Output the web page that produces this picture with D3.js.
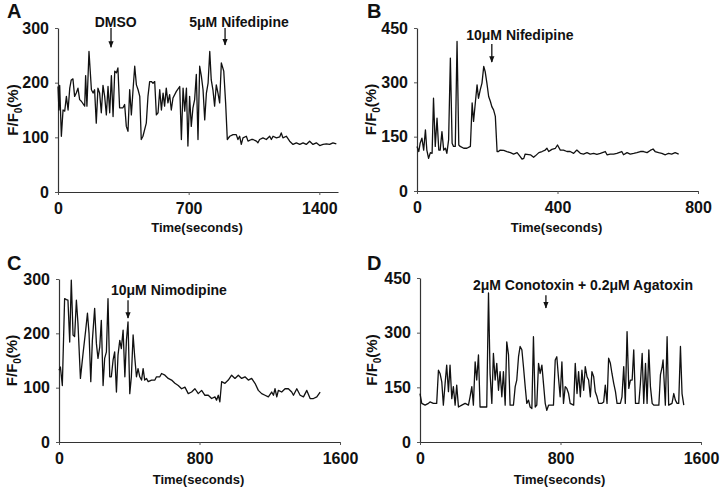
<!DOCTYPE html>
<html><head><meta charset="utf-8">
<script src="https://cdn.jsdelivr.net/npm/d3@7"></script>
<style>
body{margin:0;background:#fff;}
text{font-family:"Liberation Sans",Arial,sans-serif;font-weight:bold;fill:#111;}
</style></head>
<body><svg id="chart" width="720" height="488"></svg>
<script>
// ---------- data ----------
const aTime = [0,5,9,18,27,36,45,54,63,71,80,89,98,107,116,125,143,148,155,166,179,188,196,205,214,223,232,241,250,259,268,277,286,295,304,313,321,330,348,357,366,375,384,393,402,411,420,429,438,446,455,473,482,491,500,509,518,527,536,545,554,563,571,580,589,598,607,616,634,652,661,670,679,688,696,705,714,723,732,741,750,759,768,777,786,795,804,813,821,830,839,848,857,866,875,888,898,907,920,938,955,964,973,982,991,1009,1018,1036,1045,1063,1071,1080,1098,1116,1134,1143,1152,1170,1188,1196,1205,1223,1241,1259,1277,1295,1313,1330,1348,1366,1384,1402,1420,1438,1455,1473,1491];
const aValue = [193,150,195,102,150,148,175,150,190,205,207,175,181,190,169,166,157,213,157,257,187,181,187,126,190,181,145,195,175,141,193,145,213,138,221,218,227,154,154,160,120,111,187,141,187,230,196,187,175,96,102,126,175,202,202,199,202,141,145,187,150,181,157,190,163,178,150,172,184,193,96,190,148,190,84,175,120,154,169,215,96,230,212,187,132,181,199,257,205,187,157,196,181,163,236,221,163,96,102,105,105,96,102,87,99,102,93,96,96,93,90,96,99,96,102,96,102,99,101,108,99,102,93,87,90,87,90,87,93,87,90,85,87,88,87,90,88];

const bTime = [0,5,9,14,19,24,28,33,38,43,47,52,57,62,66,71,76,81,85,90,95,100,104,109,114,119,123,133,142,152,157,161,166,171,175,180,185,190,194,199,204,209,213,218,223,228,232,237,247,256,266,275,285,294,299,304,308,323,332,337,347,356,365,370,375,384,394,400,408,417,427,436,446,455,465,474,484,493,503,512,522,536,541,550,560,569,583,588,598,607,617,626,636,645,655,664,672,678,688,697,707,716,725,735,745];
const bValue = [123,109,132,146,113,169,113,90,106,104,256,123,201,113,113,164,113,118,104,141,367,132,123,123,413,127,123,118,118,123,243,192,243,293,256,279,298,344,330,298,261,247,233,224,206,109,109,113,112,109,106,102,106,95,88,90,102,100,93,97,106,109,113,118,109,115,118,127,113,113,109,109,104,113,104,102,106,102,104,101,104,109,100,102,102,104,109,100,106,102,104,106,109,109,106,112,116,109,106,104,100,104,102,106,102];

const cTime = [0,8,19,32,42,51,61,70,80,89,99,108,122,137,152,162,171,181,190,203,213,222,232,241,251,260,270,279,289,298,308,317,327,336,346,355,365,375,384,393,403,412,422,431,441,450,460,470,479,488,498,508,527,546,555,574,584,603,622,641,660,679,698,717,736,755,774,793,812,831,850,869,888,897,907,916,926,945,964,983,1002,1021,1040,1059,1078,1097,1116,1135,1154,1173,1192,1211,1221,1230,1240,1249,1268,1287,1306,1325,1335,1354,1373,1392,1411,1430,1449,1468,1487];
const cValue = [132,138,104,264,262,261,184,298,197,194,261,218,117,163,206,237,200,111,187,246,181,154,175,224,104,154,166,264,120,120,151,166,92,160,187,172,206,120,187,221,89,120,197,157,120,135,120,114,135,114,117,111,114,114,120,120,126,123,117,114,108,104,98,101,89,92,98,89,95,86,86,80,83,77,86,74,111,108,114,123,117,123,117,120,114,117,108,95,89,86,83,92,86,98,83,95,92,98,98,92,86,98,86,83,95,80,80,83,92];

const dTime = [0,10,29,48,57,76,95,105,114,124,133,143,152,162,171,181,190,200,209,219,238,257,276,285,295,304,314,323,333,342,361,380,390,399,409,418,428,437,447,456,466,475,485,494,504,513,532,542,551,561,570,580,589,599,608,618,627,637,646,656,665,675,684,694,703,713,722,732,760,770,779,789,798,808,817,827,836,846,855,875,884,894,903,913,922,932,941,951,960,970,979,989,998,1008,1017,1036,1046,1055,1065,1074,1084,1093,1103,1113,1122,1141,1150,1160,1169,1179,1189,1198,1208,1217,1227,1246,1255,1265,1274,1284,1293,1303,1312,1322,1331,1360,1369,1379,1384,1397,1407,1416,1435,1445,1454,1464,1473,1483,1492,1502];
const dValue = [133,106,101,106,110,106,106,197,188,165,101,161,211,138,211,119,152,101,156,96,101,106,101,124,152,101,220,170,239,96,96,96,409,188,106,243,170,216,142,193,124,193,101,275,239,101,101,152,170,234,262,253,207,152,106,115,96,92,289,96,101,216,188,211,161,106,87,101,101,225,234,174,124,220,106,152,147,133,106,101,216,133,193,124,197,142,207,179,170,124,193,179,138,124,106,106,110,156,106,230,216,188,161,138,106,106,124,207,106,303,147,170,170,253,106,106,161,243,106,216,106,253,152,106,101,101,184,207,225,101,289,101,106,133,115,106,106,262,133,101];

const aXTicks = [0,700,1400], aYTicks = [0,100,200,300];
const bXTicks = [0,400,800],  bYTicks = [0,150,300,450];
const cXTicks = [0,800,1600], cYTicks = [0,100,200,300];
const dXTicks = [0,800,1600], dYTicks = [0,150,300,450];

const panelLetters = ["A","B","C","D"];
const xTitle = "Time(seconds)";

const aNotes = ["DMSO","5μM Nifedipine"], aNoteT = [309,970], aArrowT = [284,895];
const bNotes = ["10μM Nifedipine"], bNoteT = [293], bArrowT = [213];
const cNotes = ["10μM Nimodipine"], cNoteT = [626], cArrowT = [393];
const dNotes = ["2μM Conotoxin + 0.2μM Agatoxin"], dNoteT = [928], dArrowT = [717];

// ---------- drawing ----------
const svg = d3.select("#chart");
svg.append("defs").append("marker")
  .attr("id","ah").attr("viewBox","0 0 10 10").attr("refX",9).attr("refY",5)
  .attr("markerWidth",5).attr("markerHeight",6).attr("orient","auto")
  .append("path").attr("d","M0,1 L10,5 L0,9 Z").attr("fill","#111");

const panels = [
  {letter:panelLetters[0], t:aTime, v:aValue, xd:[0,1500], yd:[0,300], xt:aXTicks, yt:aYTicks,
   x0:58, x1:338, y0:192, y1:28, lx:7, ly:18, ylx:13, titleY:232,
   notes:aNotes, noteT:aNoteT, arrowT:aArrowT, noteV:302, arrowTop:[300,300], arrowTip:[265,269]},
  {letter:panelLetters[1], t:bTime, v:bValue, xd:[0,800], yd:[0,450], xt:bXTicks, yt:bYTicks,
   x0:417, x1:698, y0:191, y1:28, lx:367, ly:18, ylx:371, titleY:232,
   notes:bNotes, noteT:bNoteT, arrowT:bArrowT, noteV:417, arrowTop:[406], arrowTip:[356]},
  {letter:panelLetters[2], t:cTime, v:cValue, xd:[0,1600], yd:[0,300], xt:cXTicks, yt:cYTicks,
   x0:59, x1:340, y0:442, y1:279, lx:7, ly:270, ylx:12, titleY:484,
   notes:cNotes, noteT:cNoteT, arrowT:cArrowT, noteV:271, arrowTop:[261], arrowTip:[228]},
  {letter:panelLetters[3], t:dTime, v:dValue, xd:[0,1600], yd:[0,450], xt:dXTicks, yt:dYTicks,
   x0:420, x1:701, y0:442, y1:278, lx:367, ly:270, ylx:372, titleY:484,
   notes:dNotes, noteT:dNoteT, arrowT:dArrowT, noteV:417, arrowTop:[403], arrowTip:[368]}
];

panels.forEach(p => {
  const x = d3.scaleLinear().domain(p.xd).range([p.x0,p.x1]);
  const y = d3.scaleLinear().domain(p.yd).range([p.y0,p.y1]);
  const g = svg.append("g");

  const xa = g.append("g").attr("transform",`translate(0,${p.y0})`)
    .call(d3.axisBottom(x).tickValues(p.xt).tickFormat(d3.format("d")).tickSize(3).tickSizeOuter(0).tickPadding(8));
  const ya = g.append("g").attr("transform",`translate(${p.x0},0)`)
    .call(d3.axisLeft(y).tickValues(p.yt).tickFormat(d3.format("d")).tickSize(3).tickSizeOuter(0).tickPadding(6));
  [xa,ya].forEach(a=>{
    a.select(".domain").attr("stroke","#333").attr("stroke-width",1.2);
    a.selectAll(".tick line").attr("stroke","#555");
    a.selectAll(".tick text").style("font-size","16px").style("font-family","'Liberation Sans',Arial,sans-serif")
      .style("font-weight","bold").attr("fill","#111");
  });

  const line = d3.line().x((d,i)=>x(p.t[i])).y(d=>y(d));
  g.append("path").datum(p.v).attr("d",line).attr("fill","none")
    .attr("stroke","#111").attr("stroke-width",1.3).attr("stroke-linejoin","round");

  // letter
  g.append("text").attr("x",p.lx).attr("y",p.ly).text(p.letter).style("font-size","20px");
  // x title
  g.append("text").attr("x",(p.x0+p.x1)/2 - 1).attr("y",p.titleY).attr("text-anchor","middle")
    .style("font-size","13px").text(xTitle);
  // y title
  const yt = g.append("text").attr("transform",`translate(${p.ylx+5},${(p.y0+p.y1)/2}) rotate(-90)`)
    .attr("text-anchor","middle").style("font-size","15px");
  yt.append("tspan").text("F/F");
  yt.append("tspan").attr("dy",4).style("font-size","10px").text("0");
  yt.append("tspan").attr("dy",-4).text("(%)");

  // annotations
  p.notes.forEach((n,i)=>{
    g.append("text").attr("x",x(p.noteT[i])).attr("y",y(p.noteV)).attr("text-anchor","middle")
      .style("font-size","14px").text(n);
    const top = p.arrowTop[i] !== undefined ? p.arrowTop[i] : p.arrowTop[0];
    g.append("line").attr("x1",x(p.arrowT[i])).attr("x2",x(p.arrowT[i]))
      .attr("y1",y(top)).attr("y2",y(p.arrowTip[i]))
      .attr("stroke","#111").attr("stroke-width",1.3).attr("marker-end","url(#ah)");
  });
});
</script></body></html>
